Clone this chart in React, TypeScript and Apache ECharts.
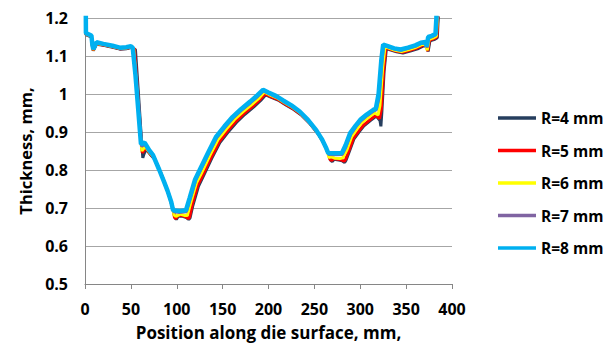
import React, { useEffect, useRef } from "react";
import * as echarts from "echarts";

type P = [number, number];

const seriesNames = ["R=4 mm", "R=5 mm", "R=6 mm", "R=7 mm", "R=8 mm"];
const seriesColors = ["#263E5E", "#FF0000", "#FFFF00", "#8064A2", "#00B0F0"];
const seriesWidths = [3, 3, 3, 3, 4.5];

const xTicks = [0, 50, 100, 150, 200, 250, 300, 350, 400];
const yTicks = [0.5, 0.6, 0.7, 0.8, 0.9, 1, 1.1, 1.2];

const r4: P[] = [[0.8,1.25],[1,1.156],[4,1.153],[7,1.15],[8,1.126],[9,1.114],[10.5,1.121],[12.5,1.131],[20,1.128],[30,1.123],[38,1.118],[45,1.119],[50,1.122],[55,1.117],[58,1.01],[61,0.9],[63,0.832],[64,0.84],[66.5,0.855],[71.5,0.84],[76,0.828],[83,0.79],[88,0.758],[92,0.731],[96,0.697],[98,0.675],[99.5,0.67],[101.5,0.678],[106.5,0.678],[110.5,0.675],[113,0.67],[114.5,0.674],[117.5,0.706],[123.5,0.756],[129,0.784],[138,0.83],[147,0.872],[156,0.9],[165,0.925],[174,0.946],[184,0.966],[191.5,0.983],[197,0.998],[202.5,0.992],[210.5,0.984],[218.5,0.972],[227.5,0.959],[236.5,0.943],[245.5,0.921],[254.5,0.894],[260.5,0.87],[265.5,0.843],[267.5,0.826],[269.5,0.822],[271.5,0.828],[276.5,0.826],[280.5,0.824],[283,0.82],[284.5,0.826],[288,0.848],[293,0.881],[299,0.901],[304,0.916],[311,0.93],[317.5,0.942],[321.5,0.93],[322.5,0.915],[323.5,0.95],[326,1.06],[328.5,1.12],[332.5,1.116],[339.5,1.111],[346.5,1.108],[354.5,1.113],[362.5,1.119],[368.5,1.126],[372.5,1.127],[374,1.112],[376,1.14],[380.5,1.143],[384,1.148],[385,1.2],[386,1.3]];

const r5: P[] = [[0.8,1.25],[1,1.157],[4,1.154],[7,1.151],[8,1.127],[9,1.115],[10.5,1.122],[12.5,1.132],[20,1.129],[30,1.124],[38,1.119],[45,1.12],[50,1.123],[54,1.118],[57,1.02],[60,0.92],[62.5,0.845],[66,0.858],[71,0.843],[75.5,0.831],[82.5,0.792],[87.5,0.761],[91.5,0.734],[95.5,0.7],[97.5,0.676],[99,0.672],[101,0.68],[106,0.68],[110,0.677],[112.5,0.672],[114,0.676],[117,0.71],[123,0.76],[128.5,0.787],[137.5,0.833],[146.5,0.875],[155.5,0.903],[164.5,0.928],[173.5,0.949],[183.5,0.969],[191,0.986],[196.5,1.0],[202,0.994],[210,0.986],[218,0.974],[227,0.961],[236,0.945],[245,0.923],[254,0.896],[260,0.872],[265,0.846],[267,0.828],[269,0.825],[271,0.83],[276,0.828],[280,0.826],[282.5,0.823],[284,0.828],[287.5,0.85],[292.5,0.883],[298.5,0.903],[303.5,0.918],[310.5,0.932],[317,0.944],[321,0.935],[323,0.96],[325.5,1.06],[328,1.122],[332,1.118],[339,1.113],[346,1.11],[354,1.115],[362,1.121],[368,1.128],[372,1.129],[373.5,1.113],[375.5,1.142],[380,1.145],[383.5,1.15],[384.5,1.2],[385.5,1.3]];

const r6: P[] = [[0.8,1.25],[1,1.158],[4,1.155],[7,1.152],[8,1.128],[9,1.116],[10.5,1.123],[12.5,1.133],[20,1.13],[30,1.125],[38,1.12],[45,1.121],[50,1.124],[53,1.12],[56,1.03],[59,0.93],[62,0.85],[65.5,0.862],[70.5,0.846],[75,0.834],[82,0.795],[87,0.764],[91,0.738],[95,0.706],[97,0.682],[99,0.678],[104,0.684],[109,0.68],[111.5,0.68],[115.5,0.716],[121.5,0.766],[127,0.792],[136,0.838],[145,0.88],[154,0.908],[163,0.933],[172,0.953],[182,0.973],[190,0.99],[195.5,1.005],[201,0.998],[209,0.99],[217,0.978],[226,0.965],[235,0.949],[244,0.927],[253,0.9],[259,0.876],[264,0.85],[266,0.832],[268,0.835],[272,0.831],[278,0.83],[281,0.832],[285.5,0.853],[290.5,0.887],[296.5,0.908],[301.5,0.924],[308.5,0.938],[315.5,0.95],[319.5,0.945],[321.5,0.97],[324.5,1.07],[327,1.125],[331,1.121],[338,1.115],[345,1.112],[353,1.117],[361,1.123],[367,1.13],[371.5,1.131],[373,1.115],[375,1.144],[379,1.147],[383,1.152],[384,1.2],[385,1.3]];

const r7: P[] = [[0.8,1.25],[1,1.16],[4,1.156],[7,1.153],[8,1.13],[9,1.118],[10.5,1.125],[12.5,1.135],[20,1.131],[30,1.126],[38,1.121],[45,1.122],[50,1.125],[52.5,1.121],[55.5,1.04],[58.5,0.95],[61.5,0.862],[65,0.868],[70,0.85],[74.5,0.838],[81.5,0.798],[86.5,0.767],[90.5,0.742],[94.5,0.712],[96.5,0.69],[103,0.688],[110.5,0.69],[114.5,0.722],[120.5,0.772],[125.5,0.797],[134.5,0.842],[143.5,0.885],[152.5,0.912],[161.5,0.937],[170.5,0.957],[180.5,0.977],[188.5,0.994],[194.5,1.008],[200.5,1.001],[208.5,0.992],[216.5,0.98],[225.5,0.967],[234.5,0.951],[243.5,0.929],[252.5,0.902],[258.5,0.879],[263.5,0.853],[265.5,0.841],[272.5,0.84],[280.5,0.841],[284.5,0.861],[289.5,0.893],[295.5,0.914],[300.5,0.929],[307.5,0.943],[314.5,0.955],[317.5,0.958],[320.5,0.99],[323.5,1.08],[325.5,1.128],[330.5,1.124],[337.5,1.118],[344.5,1.115],[352.5,1.12],[360.5,1.126],[366.5,1.133],[371.5,1.135],[373,1.122],[374.5,1.148],[378.5,1.151],[382.5,1.156],[383.5,1.2],[384.5,1.3]];

const r8: P[] = [[0.8,1.25],[1,1.16],[4,1.157],[7,1.154],[8,1.13],[9,1.118],[10.5,1.125],[12.5,1.136],[20,1.132],[30,1.127],[38,1.122],[45,1.123],[50,1.126],[52,1.122],[55,1.05],[58,0.96],[61,0.868],[65,0.872],[70,0.852],[74,0.84],[81,0.8],[86,0.77],[90,0.745],[94,0.716],[96,0.694],[103,0.692],[110,0.694],[114,0.726],[120,0.775],[125,0.8],[134,0.845],[143,0.888],[152,0.915],[161,0.94],[170,0.96],[180,0.98],[188,0.997],[194,1.011],[200,1.004],[208,0.995],[216,0.983],[225,0.97],[234,0.954],[243,0.932],[252,0.905],[258,0.882],[263,0.857],[265,0.845],[272,0.844],[280,0.845],[284,0.865],[289,0.897],[295,0.917],[300,0.932],[307,0.946],[314,0.958],[317,0.962],[320,1.0],[323,1.09],[325,1.13],[330,1.126],[337,1.12],[344,1.117],[352,1.122],[360,1.128],[366,1.135],[371,1.137],[372.5,1.125],[374,1.15],[378,1.153],[382,1.158],[383,1.2],[384,1.3]];

const seriesData = [r4, r5, r6, r7, r8];

const FONT = "'Open Sans', sans-serif";

export default function App() {
  const ref = useRef<HTMLDivElement>(null);
  useEffect(() => {
    document.body.style.margin = "0";
    if (!ref.current) return;
    const chart = echarts.init(ref.current, undefined, { renderer: "svg" });
    chart.setOption({
      animation: false,
      backgroundColor: "#FFFFFF",
      grid: { left: 85, right: 156, top: 18, bottom: 59, containLabel: false, outerBoundsMode: "none" },
      legend: {
        orient: "vertical",
        left: 493,
        top: 104,
        icon: "rect",
        itemWidth: 38,
        itemHeight: 3.5,
        itemGap: 14.5,
        data: seriesNames,
        textStyle: { fontFamily: FONT, fontWeight: "bold", fontSize: 15.5, color: "#000", lineHeight: 18 },
      },
      xAxis: {
        type: "value",
        min: xTicks[0],
        max: xTicks[xTicks.length - 1],
        interval: 50,
        name: "Position along die surface, mm,",
        nameLocation: "middle",
        nameGap: 40,
        nameTextStyle: { fontFamily: FONT, fontWeight: "bold", fontSize: 17, color: "#000" },
        axisLine: { show: true, lineStyle: { color: "#868686", width: 1 } },
        axisTick: { show: true, length: 5, lineStyle: { color: "#868686" } },
        splitLine: { show: false },
        axisLabel: { margin: 17, fontFamily: FONT, fontWeight: "bold", fontSize: 16, color: "#000" },
      },
      yAxis: {
        type: "value",
        min: yTicks[0],
        max: yTicks[yTicks.length - 1],
        interval: 0.1,
        name: "Thickness, mm,",
        nameLocation: "middle",
        nameGap: 51,
        nameTextStyle: { fontFamily: FONT, fontWeight: "bold", fontSize: 16.5, color: "#000" },
        axisLine: { show: true, lineStyle: { color: "#868686", width: 1 } },
        axisTick: { show: false },
        splitLine: { show: true, lineStyle: { color: "#A6A6A6", width: 1 } },
        axisLabel: {
          margin: 17,
          fontFamily: FONT,
          fontWeight: "bold",
          fontSize: 16,
          color: "#000",
          formatter: (v: number) => String(Math.round(v * 10) / 10),
        },
      },
      series: seriesData.map((d, i) => ({
        name: seriesNames[i],
        type: "line",
        data: d,
        showSymbol: false,
        symbol: "none",
        clip: true,
        color: seriesColors[i],
        itemStyle: { color: seriesColors[i] },
        lineStyle: { color: seriesColors[i], width: seriesWidths[i] },
        z: 2 + i,
      })),
    });
    return () => chart.dispose();
  }, []);
  return <div ref={ref} style={{ width: 608, height: 343 }} />;
}
